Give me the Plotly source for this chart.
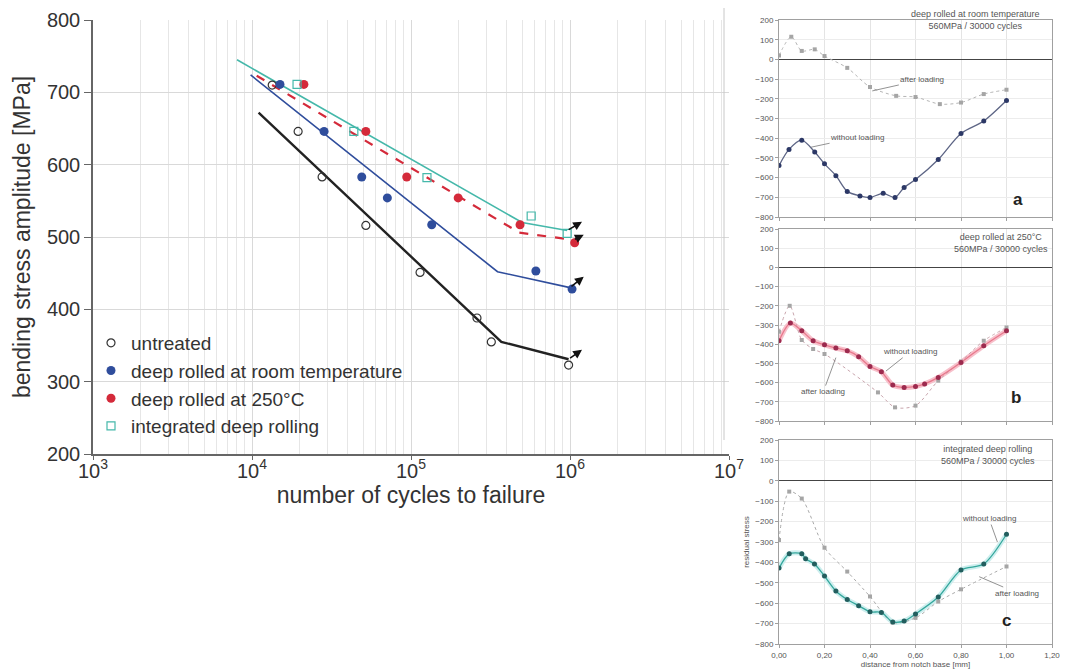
import math
import plotly.graph_objects as go

W, H = 1070, 672
OFF = 8  # page body margin in the browser

# ---------------- main S-N diagram data ----------------
untreated_n = [1.34e4, 1.95e4, 2.76e4, 5.2e4, 1.14e5, 2.6e5, 3.2e5, 9.8e5]
untreated_s = [710, 646, 583, 516, 451, 388, 355, 323]
rt_n = [1.5e4, 2.84e4, 4.9e4, 7.1e4, 1.35e5, 6.1e5, 1.03e6]
rt_s = [711, 646, 583, 554, 517, 453, 428]
hot_n = [2.12e4, 5.2e4, 9.4e4, 1.98e5, 4.85e5, 1.07e6]
hot_s = [711, 646, 583, 554, 517, 492]
idr_n = [1.92e4, 4.37e4, 1.26e5, 5.7e5, 9.6e5]
idr_s = [711, 646, 582, 529, 505]

# fitted S-N lines (vertices)
fit_untreated_n = [1.1e4, 3.7e5, 9.8e5]
fit_untreated_s = [672, 355, 331]
fit_rt_n = [9.8e3, 3.5e5, 1.0e6]
fit_rt_s = [724, 452, 430]
fit_hot_n = [1.07e4, 4.8e5, 1.05e6]
fit_hot_s = [723, 506, 496]
fit_idr_n = [8.05e3, 5.0e5, 9.6e5]
fit_idr_s = [745, 520, 509]
# run-out arrow tips
arrow_tip_n = [1.19e6, 1.22e6, 1.22e6, 1.19e6]
arrow_tip_s = [344, 445, 503, 521]

x_tickvals = [1e3, 1e4, 1e5, 1e6, 1e7]
x_ticktext = ["10<sup>3</sup>", "10<sup>4</sup>", "10<sup>5</sup>", "10<sup>6</sup>", "10<sup>7</sup>"]

# ---------------- residual stress panels ----------------
a_x_without = [0.0, 0.044, 0.10, 0.157, 0.20, 0.25, 0.30, 0.356, 0.40, 0.458, 0.51, 0.55, 0.60, 0.70, 0.80, 0.90, 1.0]
a_y_without = [-539, -457, -410, -470, -530, -590, -670, -693, -701, -680, -701, -650, -610, -508, -376, -313, -209]
a_x_after = [0.0, 0.054, 0.10, 0.157, 0.20, 0.30, 0.40, 0.515, 0.60, 0.707, 0.80, 0.90, 1.0]
a_y_after = [20, 115, 43, 51, 17, -43, -140, -185, -191, -227, -219, -176, -154]

b_x_without = [0.0, 0.05, 0.10, 0.15, 0.20, 0.25, 0.30, 0.35, 0.40, 0.45, 0.50, 0.55, 0.60, 0.64, 0.70, 0.80, 0.90, 1.0]
b_y_without = [-382, -290, -330, -382, -403, -420, -434, -465, -516, -543, -613, -625, -620, -607, -573, -495, -408, -330]
b_x_after = [0.0, 0.047, 0.10, 0.15, 0.20, 0.435, 0.51, 0.60, 0.70, 0.80, 0.90, 1.0]
b_y_after = [-335, -200, -378, -425, -451, -651, -729, -720, -590, -490, -382, -313]

c_x_without = [0.0, 0.045, 0.10, 0.117, 0.156, 0.20, 0.25, 0.30, 0.35, 0.40, 0.45, 0.50, 0.55, 0.60, 0.70, 0.80, 0.90, 1.0]
c_y_without = [-428, -358, -358, -382, -408, -467, -540, -582, -612, -642, -645, -692, -687, -653, -570, -437, -408, -262]
c_x_after = [0.0, 0.045, 0.10, 0.20, 0.30, 0.40, 0.50, 0.60, 0.70, 0.80, 1.0]
c_y_after = [-290, -53, -87, -328, -445, -567, -695, -672, -592, -532, -420]

panel_ticks_x = [0.0, 0.2, 0.4, 0.6, 0.8, 1.0, 1.2]
panel_ticktext_x = ["0,00", "0,20", "0,40", "0,60", "0,80", "1,00", "1,20"]

FONT = "Arial, Liberation Sans, sans-serif"
BLACK = "#222222"
BLUE = "#2f4d9c"
RED = "#d42a3a"
TEAL = "#45b8aa"


def fx(x):
    return (x - OFF) / W


def fy(y):
    return 1 - (y - OFF) / H


def px(x0, x1):
    return [fx(x0), fx(x1)]


def py(top, bottom):
    return [fy(bottom), fy(top)]


fig = go.Figure()

# fitted lines
fig.add_trace(go.Scatter(x=fit_untreated_n, y=fit_untreated_s, mode="lines",
                         line=dict(color=BLACK, width=2.4), showlegend=False, xaxis="x", yaxis="y"))
fig.add_trace(go.Scatter(x=fit_rt_n, y=fit_rt_s, mode="lines",
                         line=dict(color=BLUE, width=1.6), showlegend=False, xaxis="x", yaxis="y"))
fig.add_trace(go.Scatter(x=fit_idr_n, y=fit_idr_s, mode="lines",
                         line=dict(color=TEAL, width=1.6), showlegend=False, xaxis="x", yaxis="y"))
fig.add_trace(go.Scatter(x=fit_hot_n, y=fit_hot_s, mode="lines",
                         line=dict(color=RED, width=2.2, dash="dash"), showlegend=False, xaxis="x", yaxis="y"))

# data points
fig.add_trace(go.Scatter(x=untreated_n, y=untreated_s, mode="markers", name="untreated",
                         marker=dict(symbol="circle-open", size=8, color="#333333", line=dict(width=1.2))))
fig.add_trace(go.Scatter(x=rt_n, y=rt_s, mode="markers", name="deep rolled at room temperature",
                         marker=dict(symbol="circle", size=9, color=BLUE)))
fig.add_trace(go.Scatter(x=hot_n, y=hot_s, mode="markers", name="deep rolled at 250°C",
                         marker=dict(symbol="circle", size=9, color=RED)))
fig.add_trace(go.Scatter(x=idr_n, y=idr_s, mode="markers", name="integrated deep rolling",
                         marker=dict(symbol="square-open", size=8, color=TEAL, line=dict(width=1.2))))

annotations = []
ends = [(fit_untreated_n[-1], fit_untreated_s[-1]), (fit_rt_n[-1], fit_rt_s[-1]),
        (fit_hot_n[-1], fit_hot_s[-1]), (fit_idr_n[-1], fit_idr_s[-1])]
for (en, es), tn, ts in zip(ends, arrow_tip_n, arrow_tip_s):
    annotations.append(dict(x=math.log10(tn), y=ts, ax=math.log10(en), ay=es, xref="x", yref="y",
                            axref="x", ayref="y", text="", showarrow=True, arrowhead=2,
                            arrowsize=1.1, arrowwidth=1.6, arrowcolor="#111111"))


def panel(xa, ya, x_without, y_without, x_after, y_after, line_col, mark_col, glow, after_col):
    if glow:
        fig.add_trace(go.Scatter(x=x_without, y=y_without, mode="lines", line=dict(color=glow, width=5, shape="spline", smoothing=0.8),
                                 showlegend=False, xaxis=xa, yaxis=ya, hoverinfo="skip"))
    fig.add_trace(go.Scatter(x=x_after, y=y_after, mode="lines+markers",
                             line=dict(color=after_col, width=1, dash="dot", shape="spline", smoothing=0.8),
                             marker=dict(symbol="square", size=4, color="#a5a5a5"),
                             showlegend=False, xaxis=xa, yaxis=ya))
    fig.add_trace(go.Scatter(x=x_without, y=y_without, mode="lines+markers",
                             line=dict(color=line_col, width=1.3, shape="spline", smoothing=0.8),
                             marker=dict(symbol="circle", size=5, color=mark_col),
                             showlegend=False, xaxis=xa, yaxis=ya))


panel("x2", "y2", a_x_without, a_y_without, a_x_after, a_y_after, "#5d6585", "#2c3866", None, "#b5b5b5")
panel("x3", "y3", b_x_without, b_y_without, b_x_after, b_y_after, "#e8788c", "#9c2a4e", "#f7c0cb", "#c9a5ad")
panel("x4", "y4", c_x_without, c_y_without, c_x_after, c_y_after, "#34a79c", "#225e5e", "#cdeeee", "#aaaaaa")

small = dict(family=FONT, size=8, color="#555555")
hdr = dict(family=FONT, size=9, color="#555555")


def note(xr, yr, x, y, text, font, xanchor="center", tip=None):
    d = dict(xref=xr, yref=yr, text=text, font=font, xanchor=xanchor, yanchor="middle")
    if tip is None:
        d.update(x=x, y=y, showarrow=False)
    else:
        d.update(x=tip[0], y=tip[1], ax=x, ay=y, axref=xr, ayref=yr, showarrow=True,
                 arrowhead=0, arrowwidth=0.8, arrowcolor="#777777")
    annotations.append(d)


# panel a
note("x2", "y2", 0.57, 200, "deep rolled at room temperature<br>560MPa / 30000 cycles", hdr, "left")
note("x2", "y2", 0.63, -103, "after loading", small, tip=(0.41, -160))
note("x2", "y2", 0.345, -395, "without loading", small, tip=(0.14, -446))
note("x2", "y2", 1.05, -713, "<b>a</b>", dict(family=FONT, size=17, color="#222222"))
# panel b
note("x3", "y3", 0.76, 128, "deep rolled at 250°C<br>560MPa / 30000 cycles", hdr, "left")
note("x3", "y3", 0.577, -439, "without loading", small, tip=(0.47, -540))
note("x3", "y3", 0.195, -647, "after loading", small, tip=(0.25, -470))
note("x3", "y3", 1.04, -679, "<b>b</b>", dict(family=FONT, size=17, color="#222222"))
# panel c
note("x4", "y4", 0.92, 126, "integrated deep rolling<br>560MPa / 30000 cycles", hdr)
note("x4", "y4", 0.923, -185, "without loading", small, tip=(0.96, -300))
note("x4", "y4", 1.047, -550, "after loading", small, tip=(0.88, -470))
note("x4", "y4", 1.0, -685, "<b>c</b>", dict(family=FONT, size=17, color="#222222"))

grid_main = "#d9d9d9"

layout = dict(
    width=W, height=H,
    margin=dict(l=0, r=0, t=0, b=0, autoexpand=False),
    paper_bgcolor="white", plot_bgcolor="white",
    font=dict(family=FONT, color="#333333"),
    showlegend=True,
    legend=dict(x=fx(91), y=fy(324), xanchor="left", yanchor="top",
                font=dict(family=FONT, size=19, color="#333333"),
                bgcolor="rgba(0,0,0,0)", itemwidth=30, tracegroupgap=0),
    xaxis=dict(type="log", range=[3, 7], domain=px(93, 729), anchor="y", automargin=False,
               tickvals=x_tickvals, ticktext=x_ticktext, tickfont=dict(size=20, color="#333333"),
               showline=True, linecolor="#666666", linewidth=1.5, ticks="outside", ticklen=4, tickcolor="#666666",
               ticklabelstandoff=-6,
               showgrid=True, gridcolor=grid_main,
               minor=dict(dtick="D1", showgrid=True, gridcolor="#e6e6e6", ticks=""),
               title=dict(text="number of cycles to failure", font=dict(size=23, color="#333333"), standoff=4),
               zeroline=False),
    yaxis=dict(range=[200, 800], dtick=100, domain=py(20, 454), anchor="x", automargin=False,
               tickfont=dict(size=20, color="#333333"),
               showline=True, linecolor="#666666", linewidth=1.5, ticks="outside", ticklen=7, tickcolor="#666666",
               showgrid=True, gridcolor=grid_main, zeroline=False,
               title=dict(text="bending stress amplitude [MPa]", font=dict(size=23, color="#333333"), standoff=10)),
    annotations=annotations,
)

panel_domains = {2: py(20, 217), 3: py(229, 421), 4: py(440, 644)}
for i, dom in panel_domains.items():
    layout[f"xaxis{i}"] = dict(domain=px(779, 1052), anchor=f"y{i}", range=[0, 1.2], automargin=False,
                               tickvals=panel_ticks_x, ticktext=panel_ticktext_x,
                               showticklabels=(i == 4), tickfont=dict(size=8, color="#555555"),
                               showline=True, linecolor="#a0a0a0", ticks="outside", ticklen=3, tickcolor="#a0a0a0",
                               showgrid=True, gridcolor="#e4e4e4", zeroline=False, mirror=True)
    layout[f"yaxis{i}"] = dict(domain=dom, anchor=f"x{i}", range=[-800, 200], dtick=100, automargin=False,
                               tickfont=dict(size=8, color="#555555"),
                               showline=True, linecolor="#a0a0a0", ticks="outside", ticklen=3, tickcolor="#a0a0a0",
                               showgrid=True, gridcolor="#ececec", zeroline=True, zerolinecolor="#444444",
                               zerolinewidth=1.3, mirror=True)
layout["xaxis4"]["title"] = dict(text="distance from notch base [mm]", font=dict(size=8, color="#555555"), standoff=2)
layout["yaxis4"]["title"] = dict(text="residual stress", font=dict(size=8, color="#555555"), standoff=4)

layout["shapes"] = [dict(type="line", xref="paper", yref="paper", x0=fx(724), x1=fx(724),
                         y0=fy(440), y1=fy(8), line=dict(color="#c8c8c8", width=1))]

fig.update_layout(**layout)
fig.write_html("out.html")
